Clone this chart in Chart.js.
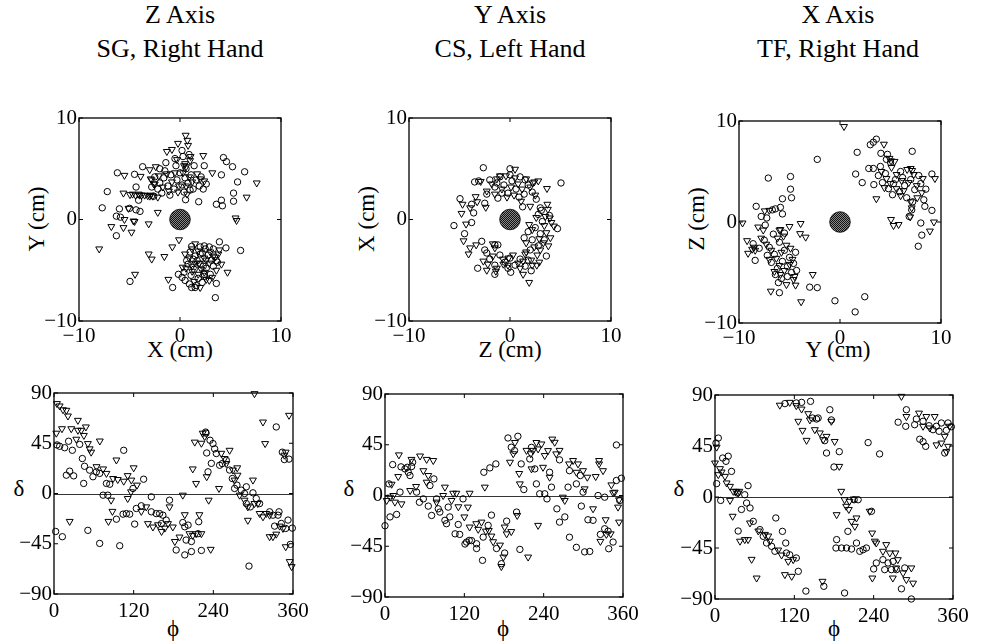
<!DOCTYPE html>
<html>
<head>
<meta charset="utf-8">
<script src="https://cdn.jsdelivr.net/npm/chart.js@4.4.0/dist/chart.umd.min.js"></script>
<style>
  html, body { margin: 0; padding: 0; background: #fff; }
  body { width: 984px; height: 642px; position: relative; overflow: hidden;
         font-family: "Liberation Serif", "DejaVu Serif", serif; color: #000; }
  canvas { position: absolute; }
  .lbl { position: absolute; transform: translate(-50%, -50%); white-space: nowrap; line-height: 1; }
  .title { font-size: 26px; }
  .axt { font-size: 23px; }
  .rot { transform: translate(-50%, -50%) rotate(-90deg); }
</style>
</head>
<body>
<script>
// ---- labels / ticks
const axisNames = ['Z Axis', 'Y Axis', 'X Axis'];
const subjects = ['SG, Right Hand', 'CS, Left Hand', 'TF, Right Hand'];
const posXLabels = ['X (cm)', 'Z (cm)', 'Y (cm)'];
const posYLabels = ['Y (cm)', 'X (cm)', 'Z (cm)'];
const posTicks = [-10, 0, 10];
const phiTicks = [0, 120, 240, 360];
const deltaTicks = [-90, -45, 0, 45, 90];

// ---- top row: positions (cm), circles and triangles
const zPosCircles = [[0.2,6.8],[0.3,6.2],[-0.5,6.0],[4.3,6.1],[4.6,5.7],[5.2,5.2],[6.4,4.7],[2.4,5.3],[4.1,4.4],[5.7,3.7],[5.3,2.6],[5.3,1.8],[4.1,1.9],[3.6,1.5],[4.2,1.35],[1.85,1.75],[0.55,1.95],[2.3,3.0],[2.6,3.5],[2.1,4.2],[-6.2,4.6],[-4.5,4.45],[-3.7,5.2],[-2.0,5.0],[-1.5,4.8],[-7.2,2.75],[-4.35,3.2],[-2.6,2.3],[-4.1,1.9],[-7.7,1.15],[-6.0,1.05],[-5.0,1.1],[-4.35,0.95],[-3.96,0.8],[-6.3,0.33],[-5.9,0.23],[-6.3,-1.6],[-4.95,-6.1],[-0.73,-6.7],
  [-2.5,4.2],[-2.0,3.6],[-1.6,4.1],[-1.2,3.3],[-0.9,4.4],[-0.6,3.0],[-0.3,3.9],[0,4.6],[0.2,3.4],[0.5,4.1],[0.8,3.6],[1.1,4.4],[1.3,3.0],[1.6,3.9],[1.9,3.3],[-1.8,2.6],[-1.0,2.4],[0.4,2.7],[1.0,2.9],[-2.8,3.2],[-0.4,5.3],[0.6,5.0],[1.4,5.3],[-1.4,5.6],[0.9,6.4],[-2.2,3.0],
  [1.15,-2.65],[2.0,-2.7],[2.4,-2.6],[2.9,-2.7],[3.3,-2.9],[3.9,-2.2],[4.55,-2.8],[6.0,-3.05],[3.6,-6.3],[3.5,-7.7],[0.66,-4.05],[-0.16,-5.4],[0.2,-5.7],[0.5,-6.0],[0.92,-6.35],[1.15,-6.7],[1.5,-6.7],[2.3,-4.6],[1.7,-4.05],[2.0,-3.4],[3.6,-4.05],[2.4,-5.6],
  [1.0,-3.2],[1.5,-3.6],[2.2,-3.3],[2.8,-3.5],[3.1,-4.0],[0.8,-4.4],[1.4,-4.9],[2.0,-4.4],[2.6,-4.8],[3.3,-4.6],[1.1,-5.5],[1.8,-5.8],[2.4,-5.4],[3.0,-5.4],[1.6,-6.5],[2.2,-6.2],[3.7,-4.2],[0.4,-5.2],[1.3,-3.9],[2.5,-2.9]];
const zPosTriangles = [[0.56,8.3],[0.73,7.8],[0.8,7.3],[-0.2,7.5],[-0.8,6.9],[-1.3,6.7],[1.05,6.2],[2.3,6.3],[3.2,4.6],[7.6,3.6],[6.6,2.2],[5.5,0.15],[5.6,-0.1],[-5.5,4.35],[-3.9,4.25],[-3.0,4.9],[-2.4,5.2],[-2.8,3.9],[-2.5,3.5],[-5.6,2.6],[-4.95,2.45],[-4.0,2.4],[-3.5,2.4],[-3.0,2.3],[-2.2,2.2],[-5.1,1.1],[-2.2,0.7],[-5.5,0],[-4.6,-0.15],[-4.5,-0.2],[-3.1,-0.43],[-6.8,-0.7],[-5.6,-0.8],[-4.8,-1.25],[-8.0,-2.9],[-3.1,-3.4],[-2.8,-3.9],[-1.55,-3.65],[-0.76,-2.7],[-0.1,-2.0],[-4.45,-5.4],[-1.15,-5.9],
  [-2.9,4.0],[-2.6,3.5],[-2.1,4.3],[-1.7,3.2],[-1.3,4.5],[-0.8,3.7],[-0.5,4.6],[-0.1,3.3],[0.3,4.6],[0.6,3.3],[0.9,4.2],[1.2,3.7],[1.7,4.5],[2.0,4.0],[-0.2,2.7],[0.7,2.5],[-1.1,2.8],[0.4,5.3],[0.5,5.5],[0.6,5.2],[1.0,5.8],[-0.3,5.9],[2.4,3.8],
  [-4.7,2.5],[-4.4,2.4],[-4.1,2.5],[-3.8,2.4],[-3.2,2.35],[-2.9,2.4],[-2.7,2.3],
  [1.5,-2.4],[3.8,-3.4],[4.1,-4.4],[4.7,-5.2],[2.9,-6.0],[0.26,-4.7],[0.5,-3.4],[1.2,-4.6],[1.9,-4.3],[2.6,-4.0],[3.3,-3.6],[1.8,-5.4],[2.4,-5.2],
  [1.2,-2.9],[1.8,-3.1],[2.4,-3.8],[3.0,-3.2],[3.5,-3.7],[0.9,-3.8],[1.5,-4.3],[2.1,-4.9],[2.9,-4.3],[3.6,-5.0],[1.2,-5.1],[2.6,-5.9],[3.2,-5.7],[1.4,-6.1],[2.0,-6.7],[0.6,-4.8],[3.9,-3.0]];

const yPosCircles = [[-2.64,5.1],[-3.5,3.7],[-3.1,3.8],[-4.95,2.05],[-3.8,1.5],[-3.6,0.65],[-5.55,-0.6],[-3.8,-0.3],[-4.5,-1.4],[-2.8,-2.15],[-2.3,-3.3],[-1.5,-2.5],[-3.2,-4.8],[-1.5,-5.4],[0.07,-5.2],[2.1,-5.05],[3.6,-3.6],[4.7,-0.9],[3.9,0.4],[3.0,1.15],[5.05,3.6],[1.25,1.25],[0,5.0],[-1.3,3.6],[-2.3,2.5],[-2.5,1.6],
  [-2.0,3.9],[-1.5,3.2],[-1.0,4.2],[-0.6,3.4],[-0.2,2.6],[0.2,3.8],[0.6,3.0],[1.0,4.2],[1.4,2.5],[1.8,3.4],[2.2,2.7],[-1.2,2.1],[0.0,4.4],[0.9,2.2],[2.6,2.0],[-0.8,2.6],[1.5,3.9],
  [2.8,0.5],[3.2,-0.2],[2.5,-0.8],[3.0,-1.4],[2.2,-2.0],[2.8,-2.6],[3.4,-2.0],[1.8,-1.2],[2.0,-3.0],[3.1,0.9],[1.4,-1.8],
  [-2.0,-3.9],[-1.5,-4.5],[-1.0,-3.5],[-0.5,-4.2],[0.0,-3.8],[0.5,-4.5],[1.0,-3.9],[1.5,-4.6],[-1.2,-2.5],[-2.5,-3.0],[1.8,-4.0],[-0.2,-4.8]];
const yPosTriangles = [[-2.9,3.75],[-4.7,1.5],[-3.95,1.15],[-3.4,2.25],[-3.25,1.75],[-4.8,0.6],[-4.35,-0.45],[-4.6,-2.1],[-4.1,-3.4],[-3.95,-2.8],[-3.35,-2.5],[-1.7,-2.4],[-2.64,-4.1],[-2.3,-5.0],[-1.4,-5.1],[-0.66,-4.4],[-0.15,-3.8],[1.3,-5.4],[1.9,-6.2],[2.9,-4.2],[2.65,-4.5],[4.0,-1.8],[3.3,-2.3],[3.8,-2.6],[4.1,-0.3],[4.35,-0.65],[3.95,0.15],[3.7,1.5],[3.75,1.0],[3.66,3.05],[2.25,3.6],[2.0,1.3],[0.5,4.95],[-1.0,4.3],[-1.5,2.5],[-2.4,1.2],
  [-1.8,3.5],[-1.3,4.0],[-0.8,3.0],[-0.4,4.3],[0.1,3.2],[0.5,4.1],[0.8,3.5],[1.2,3.0],[1.6,4.0],[2.0,3.2],[2.4,3.7],[2.5,2.4],[-0.3,2.2],[0.4,2.4],[1.1,1.8],[-2.3,2.8],[2.8,3.8],
  [2.6,0.2],[3.4,-0.6],[2.2,-1.0],[2.9,-1.9],[2.4,-2.7],[3.0,-3.0],[1.6,-2.3],[1.5,-3.4],[3.5,0.3],[1.9,-0.5],[2.7,-3.5],[2.1,-4.0],[3.6,-1.3],
  [-2.2,-4.4],[-1.7,-3.6],[-1.3,-4.8],[-0.7,-3.9],[-0.2,-4.5],[0.3,-3.5],[0.8,-4.3],[1.3,-4.1],[1.6,-3.2],[-1.5,-2.8],[2.2,-4.5],[1.0,-4.8]];

const xPosCircles = [[-8.3,1.55],[-7.1,4.35],[-4.9,4.5],[-4.9,3.25],[-5.7,2.3],[-4.8,2.4],[-5.9,1.45],[-5.7,0.8],[-6.7,1.2],[-6.4,1.3],[-7.8,0.55],[-7.25,0.4],[-8.6,-2.15],[-8.4,-3.8],[-7.4,-0.3],[-5.5,-1.1],[-3.0,-6.45],[-2.25,-6.5],[-0.5,-7.8],[2.45,-7.4],[1.5,-8.9],[-6.0,-7.0],[-6.1,-6.0],[-5.2,-5.4],[-2.25,6.2],
  [-7.5,-1.8],[-7.0,-2.5],[-6.5,-3.2],[-6.0,-2.0],[-5.5,-2.8],[-5.0,-3.5],[-6.8,-4.0],[-6.2,-4.6],[-5.7,-3.9],[-5.2,-4.4],[-4.6,-4.1],[-4.4,-3.0],[-6.4,-5.2],[-5.8,-5.6],[-4.8,-5.0],[-7.2,-3.3],[-4.3,-4.8],[-6.6,-1.2],[-8.0,-2.6],
  [3.6,8.2],[3.0,7.65],[3.3,7.9],[1.7,6.9],[7.15,7.0],[1.55,4.75],[2.2,3.9],[2.85,5.3],[3.3,5.3],[3.35,3.7],[4.05,6.8],[4.7,6.7],[9.1,4.75],[8.5,3.25],[8.3,2.2],[8.4,1.55],[9.1,1.15],[8.0,-0.1],[8.1,-1.3],[7.75,-2.4],[6.85,0.55],[7.1,1.2],
  [4.0,5.5],[4.5,4.8],[5.0,5.9],[5.5,4.2],[6.0,5.0],[4.2,3.9],[4.8,3.3],[5.3,3.8],[5.9,3.0],[6.4,3.6],[7.0,4.2],[7.4,3.2],[7.8,4.6],[6.6,2.4],[5.2,2.7],[4.6,6.2],[3.8,4.6],[7.2,2.0],[8.0,3.8],[6.2,4.4]];
const xPosTriangles = [[-9.65,-0.1],[-7.45,1.1],[-7.0,1.15],[-8.1,-0.5],[-5.0,-0.45],[-3.9,-0.15],[-3.95,-1.15],[-3.4,-1.5],[-9.2,-1.85],[-9.1,-3.1],[-8.7,-2.7],[-8.5,-2.5],[-7.6,-0.8],[-6.0,-0.8],[-5.9,-0.75],[-2.7,-5.2],[-3.85,-7.9],[-6.85,-6.85],[-5.3,-6.2],[-4.4,-6.25],[-4.6,-5.7],[0.4,9.45],
  [-7.8,-1.6],[-7.3,-2.2],[-6.8,-2.8],[-6.3,-3.6],[-5.8,-3.0],[-5.3,-2.3],[-4.9,-2.6],[-6.0,-4.3],[-5.5,-4.8],[-5.0,-4.2],[-4.7,-3.7],[-6.5,-4.9],[-5.9,-5.2],[-7.0,-3.7],[-4.5,-5.4],[-6.2,-1.6],[-5.6,-1.4],[-8.4,-2.8],
  [4.35,7.7],[3.6,2.3],[5.05,6.05],[6.65,5.2],[7.15,5.1],[9.4,4.3],[9.3,0],[8.9,-0.9],[6.95,0.5],[7.1,1.4],[5.05,0.25],[5.3,-0.35],[5.8,-0.25],[7.65,2.4],[7.0,2.0],
  [4.1,5.0],[4.6,4.3],[5.1,5.4],[5.6,4.7],[6.1,4.1],[4.4,3.4],[5.0,3.8],[5.6,3.3],[6.3,3.1],[6.8,3.9],[7.3,4.7],[7.6,3.6],[8.2,4.3],[6.0,2.6],[5.4,6.0],[4.9,6.3],[7.0,5.3],[8.1,2.9]];

// ---- bottom row: phi / delta (deg)
const zAngCircles = [[8.5,42.3],[4.5,43.5],[16,41],[22,46.8],[27.6,38.7],[42.7,31.3],[38.7,44],[46,24.4],[18.6,16.4],[29.6,15.8],[23.6,20],[44.7,9],[58.7,15],[63.8,19.4],[53.7,20.9],[68.8,18],[79,9],[84,8.3],[74,-1.5],[81,-1.5],[105,38.7],[119,4.5],[135,12.8],[146.6,-3],[131.5,-11],[124,-13.4],[109,-18],[114,-18.5],[104,-18.5],[121.5,-27.4],[94,-23],[99,-46.8],[68.8,-44.7],[51,-33],[2.5,-34],[12.6,-38.7],[146.6,-16.4],[154,-18],[159,-18],[164,-19.4],[174,-6],[161.7,-27],[169,-23.8],[184,-50.6],[197,-55],[207,-52],[199,-41.7],[207,-43],[217,-36],[194,-26],[197,-29.8],[202,-28.3],[218,-25.3],[222,-51],[228.4,55],[229,54],[230,36.3],[235,47.7],[232,19.4],[239.5,44.7],[242,40],[237,27],[249.5,25.3],[253.5,26.8],[244.5,35.8],[259.5,29.8],[264.5,21],[268.6,13.4],[275.6,7.5],[272,4.5],[282,3],[289.7,6],[299.7,0.6],[287,0],[289.7,-9],[295.7,-12],[304.7,-4.5],[309.7,-9],[293.7,-65],[334.8,59.6],[343.9,37],[347,30.4],[354,30.8],[324.8,-16.4],[329.8,-19.4],[337.4,-19.4],[338.9,-16.4],[332.3,-29.2],[342.4,-26.8],[349,-31.3],[359,-31],[356,-45.6],[352.5,-23.8]];
const zAngTriangles = [[4.5,80.5],[8.5,78.4],[13.6,75],[18.6,74.5],[21,69.4],[36,65.5],[26,58],[36,56.6],[41,56.6],[48,59.6],[45,52],[33.6,48.6],[51,44.7],[53.7,40],[56,37],[69,47],[64,24],[74,22],[79,18],[3.5,54],[12,58],[94,30],[105,11],[111,16],[116.5,12],[120,23],[96,12.5],[89,13.4],[86,-6],[88,-16],[82,-25],[23.6,-25],[111,-4.5],[116,1.5],[125,7.5],[131.5,-16],[139,-12],[141.5,-27],[149,-30],[156.7,-28],[162,-34],[167,-31],[171.7,-27],[174,-12],[179,-30],[182,-43],[189,-39],[194,-1.5],[197,-19],[204,-36],[209,-37.5],[214,-36],[219,-19],[222,-36],[209,22],[214,9],[212,46],[222,45],[224,54],[227,51],[230,15],[233,-6],[236,-50],[248.5,4.5],[252,36],[264.5,38.7],[257,31.3],[259.5,26.8],[269.5,21],[276,23],[276.5,16.4],[272,12],[279.6,-1.5],[287,-6],[292,-12],[299.7,12],[292,-24],[302,-9],[307,-9],[314.8,64],[318,44.7],[302,89.4],[354,70],[349,37],[347,34.3],[319.8,-17.9],[324.8,-38.7],[329.8,-38.7],[334.8,-36.4],[339.9,-29.2],[344.9,-31.3],[349,-47.7],[355,-61],[358,-65.5],[324.8,-19.4],[314.8,-20.9],[309.7,-17.9]];

const yAngCircles = [[0,-26.8],[6,10.3],[7.6,-19],[17.6,-16.8],[11.6,27.4],[22.7,3],[24.2,25.4],[30.2,23.6],[35.2,20.6],[33.7,25],[37.8,17.7],[41.8,29.5],[40.3,25.7],[47.8,3],[52,-6],[58,-3],[65.5,-9.4],[68,8.8],[74,14.7],[78,-3],[80.6,-11.8],[83,-14.7],[70.5,-17.7],[90.6,-22],[93,-25],[98,-19],[95.6,-10.3],[106,-34],[110.8,-25.7],[113,-34.5],[118,-3],[121,-43],[123.4,-41.3],[127.4,-39.8],[131,-40],[138.5,-47],[138.5,-42.8],[148.5,-36.9],[147.5,-57.5],[149.5,20.6],[158.6,24.5],[167.7,28],[156,-26.5],[161,-17.4],[168.7,-47],[176,-60.5],[181,-51],[184,-22.7],[199,-14.7],[204,-47.8],[186,51],[191,42.8],[196,39.8],[201,52.5],[206,28],[210,5.3],[219,32.4],[221.5,42.7],[226.6,23.6],[229,10.3],[234,1.5],[241.6,1.5],[249,20.6],[245,-3],[251.8,7.4],[264,31.6],[260,-11.8],[264,-23.6],[272,-19],[279,-37],[276.9,7.4],[279,22],[289.5,-46],[289.5,10.3],[295.5,17.7],[297,-9.4],[299.6,3],[302,-50],[309.7,-49.6],[307,-21.5],[314.7,-22],[322.3,0],[325.8,-34.5],[332.3,-29.5],[337.4,-31.6],[345,-41.3],[338.4,-47.2],[332.3,-1.5],[350,13.3],[350,44.8],[357.5,15.3],[355,-4.4]];
const yAngTriangles = [[21,36],[40,32],[53,35],[63,32],[73,31],[58,22],[65.5,17.7],[20,16.8],[10,10],[38,4.4],[47,8],[25,-7.4],[12.6,0],[2.5,-4.4],[7.6,-1.5],[15,-5.9],[63,11.8],[78,-5.9],[90.6,7.4],[88,0],[103,2],[108,2],[100.7,-4.4],[111,-10],[120,-19],[128,2],[125.4,-10.3],[128,-28],[138,-25],[141,-30],[146,-23.6],[152.6,-31.6],[151,7.4],[157,-31],[161,-36],[163.6,-41],[174,-44],[176,-63],[179,-54.6],[181,-28],[184,-34],[191,-32],[189,29.5],[194,37],[196.6,47],[200,-17.7],[203,19.5],[216.5,-54.6],[204,10.3],[214,40],[220.5,37],[224,40],[229,47],[231.6,41.3],[236.6,45.7],[241.6,35.4],[246.6,39.8],[239,25],[249,16.2],[253,50],[256.7,47.2],[259,36.9],[264,40],[221.6,23.6],[231.6,-26.5],[269,-1.5],[271.9,-4.4],[278.4,28],[284.5,31],[289.5,20.6],[292,28],[299.6,22],[302,5.9],[306,16.2],[314.7,-11.8],[318.7,16.8],[323.8,31],[329.8,22],[323.8,28],[333.8,-21.5],[325.8,-40.7],[334.8,-34.5],[341.4,-34],[342.4,9.4],[345,2.4],[352.5,-10.3],[354,-23.6],[354,-3.8],[347.4,2.9]];

const xAngCircles = [[5,52],[1.5,47.6],[11.6,34.4],[20,36],[16.6,31.5],[25,22.6],[2.5,11.8],[8.6,-3],[33.7,3.5],[45,2],[50,10],[47.8,-5.3],[53,-9.7],[40,-11],[35,-30],[57.9,-21.5],[68,-28.8],[73,-34.7],[78,-40.6],[85.6,-43.5],[90.6,-47.9],[92,-18.5],[102,-30.3],[107,-40.6],[108,-49.4],[113,-51],[123,-53.8],[126,-65.6],[137.5,-83],[105.7,82.4],[123,83],[131,83.5],[144.5,84.4],[147.5,69.7],[153.6,68.8],[156,69.7],[166,49.7],[168.7,38.8],[173.7,77],[176,68],[164.6,-78.8],[180,26.5],[188,40],[184,-37.6],[183,-45],[191.4,-45],[199,-45],[206.5,-45.9],[201,-30.3],[196,-84.7],[210.5,-2.4],[216.5,-2.4],[214,-40.6],[219,-47.9],[224,-46.5],[229,-45],[231.6,48],[236.7,-12.6],[249,38],[240,-63.5],[244,-58.2],[254,-55.3],[256.7,-64.1],[261.8,-58.2],[266.8,-64.1],[269.3,-56.8],[274.4,-64.1],[282,-81],[287,-62.6],[297,-90],[277,66],[289.5,77],[288.5,62.4],[304.6,68.8],[302,63.8],[314.7,66.8],[309.7,51],[314.7,48.8],[318.7,44.7],[323.8,62.9],[329.8,59.4],[334.8,62.4],[338.9,58],[342.4,65.3],[347.5,38.8],[352.5,65.3],[357.5,62],[350,58.8]];
const xAngTriangles = [[2.5,44],[0,30],[7.6,25],[5,19.7],[10,22],[15.1,18.2],[17.6,12.4],[22.7,9.4],[27.7,5],[31.7,5],[22.7,-3],[26.7,-17],[35.2,3.5],[36.8,5],[37.8,-39],[45,-37.6],[50,-37.6],[52.9,-22.9],[55.4,-55],[63,-71.5],[65.5,-30],[75.5,-33],[80.6,-34.4],[83,-39],[95.6,-46.8],[100.7,-51.2],[105.7,-68.5],[110.8,-56.8],[116,-70],[118.3,-55.3],[98,81],[113,83.5],[123,80.6],[126,66.8],[131,77.6],[132.4,58.8],[138.5,50],[141,73.5],[143.5,68],[151,59.4],[158.6,56.5],[163.6,50.6],[168.7,53.5],[176,66.8],[181,49],[162.6,-74.4],[188,27],[191,5],[196,-2.4],[198.4,-8.2],[184,-15.6],[202.4,-11],[206.5,-21.5],[211.5,-25.9],[214,-18.5],[203.4,-3.8],[209.5,-1.8],[234,-12.6],[237.7,-31.8],[241.7,-39],[244,-40.6],[254,-47.9],[259,-42],[264.4,-49.4],[273,-49.4],[276.5,-55.3],[274,-62.6],[282,88.8],[238,-71.5],[269,-71.5],[284.5,-67],[289.5,-72.9],[297,-62.6],[299.6,-76],[289.5,71],[308.6,74],[319.7,71],[332.3,71],[314.7,62.4],[324.8,60.9],[335,46],[342.4,47.6],[347.5,53.5],[352.5,44.7],[350,40],[355,62.4]];

// ---- layout
const panels = [
  { area: [79, 118, 281, 321], circles: zPosCircles, tri: zPosTriangles, pos: true },
  { area: [409, 118, 611, 321], circles: yPosCircles, tri: yPosTriangles, pos: true },
  { area: [739, 121, 941, 323], circles: xPosCircles, tri: xPosTriangles, pos: true },
  { area: [54, 393, 293, 594], circles: zAngCircles, tri: zAngTriangles, pos: false },
  { area: [385, 394, 623, 597], circles: yAngCircles, tri: yAngTriangles, pos: false },
  { area: [715, 395, 953, 599], circles: xAngCircles, tri: xAngTriangles, pos: false }
];

function label(text, x, y, cls) {
  const d = document.createElement('div');
  d.className = 'lbl ' + cls;
  d.textContent = text;
  d.style.left = x + 'px';
  d.style.top = y + 'px';
  document.body.appendChild(d);
}

[180, 510, 838].forEach((cx, i) => {
  label(axisNames[i], cx, 15, 'title');
  label(subjects[i], cx, 49, 'title');
  label(posYLabels[i], [36, 366, 696][i], 219, 'axt rot');
  label(posXLabels[i], cx, 349, 'axt');
  label('δ', [19, 349, 679][i], 488, 'axt');
  label('ϕ', [173, 503, 834][i], 628, 'axt');
});

// dotted fill for the central marker
const pc = document.createElement('canvas');
pc.width = 2; pc.height = 2;
const pg = pc.getContext('2d');
pg.fillStyle = '#888'; pg.fillRect(0, 0, 2, 2);
pg.fillStyle = '#111'; pg.fillRect(0, 0, 1, 1); pg.fillRect(1, 1, 1, 1);
const dotFill = pg.createPattern(pc, 'repeat');

const framePlugin = {
  id: 'frame',
  beforeDatasetsDraw(chart) {
    if (chart.options.plugins.frame.zeroLine) {
      const { ctx, chartArea: a, scales: { y } } = chart;
      const py = Math.round(y.getPixelForValue(0)) + 0.5;
      ctx.save();
      ctx.strokeStyle = '#000'; ctx.lineWidth = 0.8;
      ctx.beginPath(); ctx.moveTo(a.left, py); ctx.lineTo(a.right, py); ctx.stroke();
      ctx.restore();
    }
  },
  afterDraw(chart) {
    const { ctx, chartArea: a, scales: { x, y } } = chart;
    ctx.save();
    ctx.strokeStyle = '#000';
    ctx.lineWidth = 1.3;
    ctx.strokeRect(a.left, a.top, a.width, a.height);
    ctx.lineWidth = 1;
    ctx.beginPath();
    x.ticks.forEach(t => {
      const px = x.getPixelForValue(t.value);
      ctx.moveTo(px, a.bottom); ctx.lineTo(px, a.bottom - 4);
      ctx.moveTo(px, a.top); ctx.lineTo(px, a.top + 4);
    });
    y.ticks.forEach(t => {
      const py = y.getPixelForValue(t.value);
      ctx.moveTo(a.left, py); ctx.lineTo(a.left + 4, py);
      ctx.moveTo(a.right, py); ctx.lineTo(a.right - 4, py);
    });
    ctx.stroke();
    ctx.restore();
  }
};

const toPts = arr => arr.map(([x, y]) => ({ x, y }));
const minus = v => String(v).replace('-', '\u2212');

panels.forEach(p => {
  const [l, t, r, b] = p.area;
  const padL = 60, padT = 20, padR = 30, padB = 32;
  const cv = document.createElement('canvas');
  cv.width = r - l + padL + padR;
  cv.height = b - t + padT + padB;
  cv.style.left = (l - padL) + 'px';
  cv.style.top = (t - padT) + 'px';
  document.body.appendChild(cv);

  const xt = p.pos ? posTicks : phiTicks;
  const yt = p.pos ? posTicks : deltaTicks;
  const tickFont = { family: '"Liberation Serif", serif', size: 21 };

  const datasets = [];
  if (p.pos) {
    datasets.push({ data: [{ x: 0, y: 0 }], pointStyle: 'circle', pointRadius: 10.3,
      backgroundColor: dotFill, borderColor: '#000', borderWidth: 0.8 });
  }
  datasets.push({ data: toPts(p.circles), pointStyle: 'circle', pointRadius: 3.2,
    borderColor: '#000', borderWidth: 1, backgroundColor: 'rgba(0,0,0,0)' });
  datasets.push({ data: toPts(p.tri), pointStyle: 'triangle', pointRotation: 180, pointRadius: 4,
    borderColor: '#000', borderWidth: 1, backgroundColor: 'rgba(0,0,0,0)' });
  datasets.forEach(d => { d.clip = false; d.pointHoverRadius = d.pointRadius; });

  new Chart(cv, {
    type: 'scatter',
    data: { datasets },
    plugins: [framePlugin],
    options: {
      responsive: false,
      animation: false,
      devicePixelRatio: 1,
      events: [],
      layout: { padding: { left: 0, top: padT, right: padR, bottom: 0 } },
      plugins: { legend: { display: false }, tooltip: { enabled: false }, frame: { zeroLine: !p.pos } },
      scales: {
        x: {
          type: 'linear', min: xt[0], max: xt[xt.length - 1],
          afterBuildTicks: s => { s.ticks = xt.map(v => ({ value: v })); },
          afterFit: s => { s.height = padB; },
          grid: { display: false, drawTicks: false }, border: { display: false },
          ticks: { font: tickFont, color: '#000', padding: p.pos ? 3 : 5, maxRotation: 0, callback: minus }
        },
        y: {
          type: 'linear', min: yt[0], max: yt[yt.length - 1],
          afterBuildTicks: s => { s.ticks = yt.map(v => ({ value: v })); },
          afterFit: s => { s.width = padL; },
          grid: { display: false, drawTicks: false }, border: { display: false },
          ticks: { font: tickFont, color: '#000', padding: 2, callback: minus }
        }
      }
    }
  });
});
</script>
</body>
</html>
